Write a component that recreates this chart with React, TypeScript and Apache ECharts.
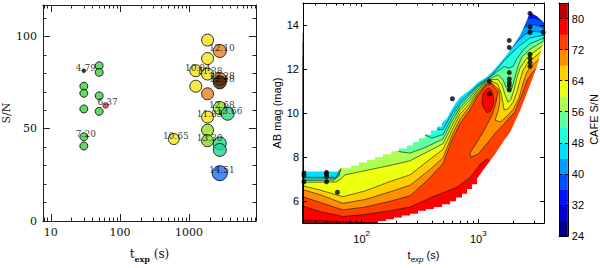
import React, { useEffect, useRef } from 'react';
import * as echarts from 'echarts';

/* ================= Left panel: S/N versus exposure time ================= */
const LEFT_T = [30, 30, 30, 30, 30, 50, 50, 50, 50, 30, 62, 600, 1250, 1250, 1850, 1850, 1850, 1850, 1850, 1850, 1850, 2780, 2780, 2780, 2780, 2780, 2780, 2780, 3610];
const LEFT_SN = [73.0, 69.2, 60.7, 45.6, 40.6, 84.1, 80.5, 67.8, 59.4, 81.4, 62.6, 44.4, 81.4, 73.0, 98.0, 88.0, 79.6, 68.9, 56.3, 49.2, 43.5, 92.1, 76.9, 75.1, 61.2, 42.0, 38.5, 25.9, 58.1];
const LEFT_MAG_LABELS = ['', '', '', '7.20', '', '', '', '', '', '4.79', '6.37', '10.65', '10.84', '', '', '', '11.38', '', '11.83', '', '13.30', '12.10', '12.28', '12.48', '12.68', '', '', '14.51', '13.66'];
const LEFT_X_LABELS = [10, 100, 1000];
const LEFT_X_MINOR = [8, 9, 20, 30, 40, 50, 60, 70, 80, 90, 200, 300, 400, 500, 600, 700, 800, 900, 2000, 3000, 4000, 5000, 6000, 7000, 8000, 9000];
const LEFT_Y_LABELS = [0, 50, 100];
const LEFT_Y_MINOR = [10, 20, 30, 40, 60, 70, 80, 90, 110];

// point styles (kept apart from the data)
const G = '#3fcf3f';
const Y = '#f4e41c';
const LEFT_COLORS = [G, G, G, G, G, G, G, G, G, '#000000', '#d42a1e', Y, Y, Y, Y, Y, Y, '#ef7d1f', Y, '#98e023', '#7fd92c', '#ee7a1c', '#dd6c18', '#3d1b06', '#8fe028', '#23dd86', '#22d596', '#1c6ff0', '#30d47c'];
const LEFT_SIZES = [8, 8, 8, 8, 8, 8, 8, 8, 8, 4, 6, 11, 12, 12, 12, 12, 12, 12, 12, 12, 12, 13, 13, 13, 13, 13, 13, 15, 13];

/* ================= Right panel: AB mag versus exposure time ================= */
const RIGHT_T = [32, 32, 32, 50, 50, 50, 50, 62, 600, 1245, 1245, 1845, 1845, 1845, 1845, 1845, 1845, 1845, 2780, 2780, 2780, 2780, 2780, 2780, 2780, 3610];
const RIGHT_MAG = [7.28, 7.15, 6.88, 7.30, 7.22, 7.12, 6.88, 6.40, 10.65, 11.44, 10.87, 13.30, 12.98, 11.84, 11.55, 11.38, 11.24, 11.05, 14.53, 13.91, 13.67, 12.67, 12.48, 12.30, 12.12, 13.67];
const RIGHT_X_LABELS = [100, 1000];
const RIGHT_X_MINOR = [40, 50, 60, 70, 80, 90, 200, 300, 400, 500, 600, 700, 800, 900, 2000, 3000];
const RIGHT_Y_LABELS = [6, 8, 10, 12, 14];

// CAFE S/N contour levels and colour bar
const CB_EDGES = [24, 28, 32, 36, 40, 44, 48, 52, 56, 60, 64, 68, 72, 76, 80, 84];
const CB_LABELS = [24, 32, 40, 48, 56, 64, 72, 80];
const BAND_COLORS = ['#00008f', '#0000cf', '#0010ff', '#0050ff', '#009fff', '#00dfff', '#20ffdf', '#60ff9f', '#afff50', '#efff10', '#ffcf00', '#ff8f00', '#ff4000', '#ff0000', '#bf0000'];

// iso-S/N lines, points as [log10(t_exp / s), AB mag]; the high-S/N side is below/right
const ISO_36 = [[1.497, 13.63], [3.375, 14.18], [3.427, 14.31], [3.487, 14.31], [3.564, 14.14]];
const ISO_40 = [[1.497, 13.20], [3.315, 13.50], [3.358, 13.76], [3.418, 13.97], [3.487, 14.01], [3.564, 13.88]];
const ISO_44 = [[1.497, 12.55], [3.169, 12.47], [3.229, 12.68], [3.289, 12.98], [3.341, 13.28], [3.401, 13.58], [3.470, 13.71], [3.564, 13.67]];
const ISO_48 = [[1.497, 7.08], [1.780, 7.08], [1.806, 7.32], [1.814, 7.58], [2.543, 9.64], [2.655, 9.25], [2.698, 9.25], [2.775, 9.98], [2.843, 10.49], [2.929, 10.92], [2.998, 11.27], [3.066, 11.52], [3.118, 11.74], [3.169, 12.04], [3.229, 12.43], [3.289, 12.73], [3.358, 13.07], [3.444, 13.41], [3.564, 13.54]];
const ISO_52 = [[1.497, 7.00], [1.780, 7.02], [1.814, 7.27], [1.823, 7.58], [2.500, 9.12], [2.603, 8.86], [2.698, 9.03], [2.775, 9.81], [2.843, 10.37], [2.929, 10.84], [2.998, 11.22], [3.066, 11.48], [3.118, 11.70], [3.169, 11.91], [3.221, 12.12], [3.264, 12.04], [3.298, 12.12], [3.332, 12.47], [3.384, 12.85], [3.444, 13.15], [3.564, 13.41]];
const ISO_56 = [[1.497, 6.93], [1.763, 6.95], [1.806, 7.15], [1.823, 7.49], [2.072, 8.26], [2.260, 8.39], [2.329, 8.24], [2.415, 8.18], [2.543, 8.43], [2.698, 8.82], [2.775, 9.64], [2.843, 10.24], [2.929, 10.71], [2.998, 11.14], [3.066, 11.44], [3.118, 11.61], [3.169, 11.74], [3.212, 11.52], [3.238, 11.18], [3.264, 10.97], [3.289, 11.14], [3.315, 11.61], [3.341, 12.12], [3.375, 12.55], [3.444, 12.90], [3.564, 13.28]];
const ISO_60 = [[1.497, 6.85], [1.780, 6.87], [1.823, 7.02], [1.857, 7.19], [2.046, 7.40], [2.243, 7.62], [2.415, 7.83], [2.543, 8.18], [2.698, 8.61], [2.775, 9.42], [2.843, 10.11], [2.929, 10.58], [2.998, 11.05], [3.066, 11.40], [3.118, 11.52], [3.169, 11.52], [3.204, 11.27], [3.229, 10.84], [3.255, 10.49], [3.281, 10.62], [3.307, 11.05], [3.332, 11.61], [3.358, 12.04], [3.401, 12.38], [3.444, 12.64], [3.564, 13.11]];
const ISO_64 = [[1.497, 6.69], [1.643, 6.50], [1.840, 6.20], [2.029, 6.46], [2.243, 6.89], [2.415, 7.19], [2.569, 7.83], [2.698, 8.35], [2.775, 9.21], [2.843, 9.94], [2.929, 10.45], [2.998, 10.97], [3.066, 11.35], [3.118, 11.44], [3.169, 11.31], [3.195, 10.92], [3.212, 10.49], [3.221, 10.15], [3.255, 10.19], [3.298, 10.49], [3.332, 10.97], [3.358, 11.48], [3.384, 11.95], [3.427, 12.30], [3.564, 12.90]];
const ISO_68 = [[1.497, 6.52], [1.643, 6.29], [1.840, 5.90], [2.029, 6.07], [2.243, 6.42], [2.415, 6.72], [2.569, 7.36], [2.698, 7.96], [2.775, 8.99], [2.843, 9.72], [2.929, 10.32], [2.998, 10.88], [3.066, 11.31], [3.118, 11.35], [3.178, 11.05], [3.187, 10.58], [3.169, 10.06], [3.144, 9.68], [3.187, 9.59], [3.238, 9.81], [3.298, 10.15], [3.349, 10.67], [3.384, 11.35], [3.418, 11.87], [3.461, 12.17], [3.564, 12.64]];
const ISO_72 = [[1.497, 6.20], [1.643, 5.94], [1.840, 5.60], [2.029, 5.73], [2.243, 5.99], [2.415, 6.24], [2.569, 6.97], [2.698, 7.70], [2.775, 8.78], [2.843, 9.51], [2.929, 10.15], [2.998, 10.79], [3.066, 11.27], [3.118, 11.31], [3.169, 10.97], [3.152, 10.49], [3.118, 9.89], [3.049, 9.21], [2.981, 8.61], [2.929, 8.18], [2.938, 8.00], [2.998, 8.13], [3.075, 8.61], [3.152, 9.12], [3.229, 9.55], [3.315, 10.06], [3.375, 10.84], [3.418, 11.48], [3.461, 11.82], [3.512, 12.12], [3.564, 12.38]];
const ISO_76_LOW = [[1.497, 5.77], [1.643, 5.52], [1.840, 5.30], [2.029, 5.39], [2.243, 5.56], [2.415, 5.73], [2.612, 6.20], [2.818, 6.63], [2.929, 7.06], [3.015, 7.66], [3.075, 7.92], [3.118, 7.75]];
const ISO_76_PEAK = [[3.084, 11.14], [3.109, 11.05], [3.126, 10.84], [3.135, 10.58], [3.126, 10.32], [3.101, 10.06], [3.075, 10.02], [3.049, 10.19], [3.032, 10.49], [3.041, 10.84], [3.058, 11.01]];
const ISO_80 = [[1.497, 5.13], [1.729, 5.09], [1.943, 5.04], [2.115, 5.00]];

// edges of the sampled area (outside is blank)
const MASK_UPPER = [[1.497, 15.00], [1.497, 7.34], [1.797, 7.34], [1.823, 7.49], [1.909, 7.49], [1.909, 7.62], [1.977, 7.62], [1.977, 7.75], [2.046, 7.75], [2.046, 7.88], [2.115, 7.88], [2.115, 8.00], [2.183, 8.00], [2.183, 8.13], [2.252, 8.13], [2.252, 8.26], [2.320, 8.26], [2.320, 8.39], [2.389, 8.39], [2.389, 8.52], [2.440, 8.52], [2.440, 8.69], [2.492, 8.69], [2.492, 8.86], [2.543, 8.86], [2.543, 9.03], [2.595, 9.03], [2.595, 9.21], [2.646, 9.21], [2.646, 9.38], [2.689, 9.38], [2.689, 9.55], [2.732, 9.76], [2.758, 10.02], [2.801, 10.41], [2.843, 10.71], [2.929, 11.05], [2.998, 11.40], [3.066, 11.61], [3.118, 11.87], [3.169, 12.17], [3.229, 12.55], [3.289, 12.98], [3.358, 13.54], [3.401, 14.01], [3.444, 14.57], [3.504, 14.40], [3.564, 14.10], [3.564, 15.00]];
const MASK_LOWER = [[2.140, 5.00], [2.140, 5.09], [2.209, 5.09], [2.209, 5.17], [2.277, 5.17], [2.277, 5.26], [2.346, 5.26], [2.346, 5.34], [2.415, 5.34], [2.415, 5.43], [2.483, 5.43], [2.483, 5.56], [2.552, 5.56], [2.552, 5.64], [2.620, 5.64], [2.620, 5.73], [2.689, 5.73], [2.689, 5.86], [2.758, 5.86], [2.758, 5.99], [2.809, 5.99], [2.809, 6.16], [2.861, 6.16], [2.861, 6.33], [2.904, 6.33], [2.904, 6.55], [2.946, 6.55], [2.946, 6.76], [2.989, 6.76], [2.989, 7.02], [3.058, 7.53], [3.144, 8.13], [3.212, 8.69], [3.272, 9.12], [3.358, 10.11], [3.444, 11.27], [3.512, 12.25], [3.564, 13.33], [3.564, 5.00]];

/* ================= layout constants ================= */
const L_XMIN = 7.67, L_XMAX = 9290, L_YMAX = 117;
const R_XLOG0 = 1.497, R_XLOG1 = 3.564;
const R_XMIN = Math.pow(10, R_XLOG0), R_XMAX = Math.pow(10, R_XLOG1);
const MAG_MIN = 5, MAG_MAX = 15;
const FONT_L = 'DejaVu Serif';
const FONT_R = 'Liberation Sans';
const INK = '#222';

function buildOption(): any {
  const regions: any[] = [
    { pts: [[R_XLOG0, MAG_MIN], [R_XLOG1, MAG_MIN], [R_XLOG1, MAG_MAX], [R_XLOG0, MAG_MAX]], fill: BAND_COLORS[2], closed: true, line: false },
    { pts: ISO_36, fill: BAND_COLORS[3] },
    { pts: ISO_40, fill: BAND_COLORS[4] },
    { pts: ISO_44, fill: BAND_COLORS[5] },
    { pts: ISO_48, fill: BAND_COLORS[6] },
    { pts: ISO_52, fill: BAND_COLORS[7] },
    { pts: ISO_56, fill: BAND_COLORS[8] },
    { pts: ISO_60, fill: BAND_COLORS[9] },
    { pts: ISO_64, fill: BAND_COLORS[10] },
    { pts: ISO_68, fill: BAND_COLORS[11] },
    { pts: ISO_72, fill: BAND_COLORS[12] },
    { pts: ISO_76_LOW, fill: BAND_COLORS[13] },
    { pts: ISO_76_PEAK, fill: BAND_COLORS[13], closed: true },
    { pts: ISO_80, fill: BAND_COLORS[14] },
    { pts: MASK_UPPER, fill: '#ffffff', closed: true, line: false },
    { pts: MASK_LOWER, fill: '#ffffff', closed: true, line: false },
  ];

  const leftX = (position: string, major: boolean, label: boolean) => ({
    type: 'log', gridIndex: 0, min: L_XMIN, max: L_XMAX, position, z: 10,
    axisLine: { show: major, onZero: false, lineStyle: { color: INK, width: 1 } },
    axisTick: { show: true, inside: true, length: major ? 7 : 3.5, customValues: major ? LEFT_X_LABELS : LEFT_X_MINOR, lineStyle: { color: INK, width: 1 } },
    axisLabel: { show: label, customValues: LEFT_X_LABELS, margin: 6, fontFamily: FONT_L, fontSize: 11, color: '#111', formatter: (v: number) => String(Math.round(v)) },
    splitLine: { show: false },
  });
  const leftY = (position: string, major: boolean, label: boolean) => ({
    type: 'value', gridIndex: 0, min: 0, max: L_YMAX, position, z: 10,
    axisLine: { show: major, onZero: false, lineStyle: { color: INK, width: 1 } },
    axisTick: { show: true, inside: true, length: major ? 7 : 3.5, customValues: major ? LEFT_Y_LABELS : LEFT_Y_MINOR, lineStyle: { color: INK, width: 1 } },
    axisLabel: { show: label, customValues: LEFT_Y_LABELS, margin: 6, fontFamily: FONT_L, fontSize: 11, color: '#111' },
    splitLine: { show: false },
  });
  const rightX = (position: string, major: boolean, label: boolean) => ({
    type: 'log', gridIndex: 1, min: R_XMIN, max: R_XMAX, position, z: 10,
    axisLine: { show: major, onZero: false, lineStyle: { color: '#000', width: 1 } },
    axisTick: { show: true, inside: true, length: major ? 4 : 2.5, customValues: major ? RIGHT_X_LABELS : RIGHT_X_MINOR, lineStyle: { color: '#000', width: 1 } },
    axisLabel: {
      show: label, customValues: RIGHT_X_LABELS, margin: 6,
      formatter: (v: number) => `{b|10}{s|${Math.round(Math.log10(v))}}`,
      rich: {
        b: { fontFamily: FONT_R, fontSize: 11, color: '#000', lineHeight: 15, verticalAlign: 'bottom' },
        s: { fontFamily: FONT_R, fontSize: 8, color: '#000', lineHeight: 9, verticalAlign: 'top' },
      },
    },
    splitLine: { show: false },
  });
  const rightY = (position: string, label: boolean) => ({
    type: 'value', gridIndex: 1, min: MAG_MIN, max: MAG_MAX, position, z: 10,
    axisLine: { show: true, onZero: false, lineStyle: { color: '#000', width: 1 } },
    axisTick: { show: true, inside: true, length: 4, customValues: RIGHT_Y_LABELS, lineStyle: { color: '#000', width: 1 } },
    axisLabel: { show: label, customValues: RIGHT_Y_LABELS, margin: 4, fontFamily: FONT_R, fontSize: 11, color: '#000' },
    splitLine: { show: false },
  });

  const xAxis: any[] = [
    {
      ...leftX('bottom', true, true),
      name: '{a|t}{b|exp}{a| (s)}', nameLocation: 'middle', nameGap: 27,
      nameTextStyle: {
        rich: {
          a: { fontFamily: FONT_L, fontSize: 12, color: '#111', lineHeight: 13, verticalAlign: 'top' },
          b: { fontFamily: FONT_L, fontSize: 8, fontWeight: 'bold', color: '#111', lineHeight: 15, verticalAlign: 'bottom' },
        },
      },
    },
    leftX('bottom', false, false),
    leftX('top', true, false),
    leftX('top', false, false),
    {
      ...rightX('bottom', true, true),
      name: '{a|t}{b|exp}{a| (s)}', nameLocation: 'middle', nameGap: 21,
      nameTextStyle: {
        rich: {
          a: { fontFamily: FONT_R, fontSize: 11, color: '#000', lineHeight: 12, verticalAlign: 'top' },
          b: { fontFamily: FONT_R, fontSize: 8, fontStyle: 'italic', color: '#000', lineHeight: 14, verticalAlign: 'bottom' },
        },
      },
    },
    rightX('bottom', false, false),
    rightX('top', true, false),
    rightX('top', false, false),
    { type: 'value', gridIndex: 2, min: 0, max: 1, position: 'bottom', z: 10, axisLine: { show: true, onZero: false, lineStyle: { color: '#000' } }, axisTick: { show: false }, axisLabel: { show: false }, splitLine: { show: false } },
    { type: 'value', gridIndex: 2, min: 0, max: 1, position: 'top', z: 10, axisLine: { show: true, onZero: false, lineStyle: { color: '#000' } }, axisTick: { show: false }, axisLabel: { show: false }, splitLine: { show: false } },
  ];

  const yAxis: any[] = [
    { ...leftY('left', true, true), name: 'S/N', nameLocation: 'middle', nameGap: 20, nameRotate: 90, nameTextStyle: { fontFamily: FONT_L, fontSize: 11, color: '#111' } },
    leftY('left', false, false),
    leftY('right', true, false),
    leftY('right', false, false),
    { ...rightY('left', true), name: 'AB mag (mag)', nameLocation: 'middle', nameGap: 17, nameRotate: 90, nameTextStyle: { fontFamily: FONT_R, fontSize: 11, color: '#000' } },
    rightY('right', false),
    {
      type: 'value', gridIndex: 2, min: 24, max: 84, position: 'right', z: 10,
      axisLine: { show: true, onZero: false, lineStyle: { color: '#000' } },
      axisTick: { show: true, inside: true, length: 3, customValues: CB_LABELS, lineStyle: { color: '#000' } },
      axisLabel: { show: true, customValues: CB_LABELS, margin: 4, fontFamily: FONT_R, fontSize: 11, color: '#000' },
      splitLine: { show: false },
      name: 'CAFE S/N', nameLocation: 'middle', nameGap: 17, nameRotate: 90,
      nameTextStyle: { fontFamily: FONT_R, fontSize: 11, color: '#000' },
    },
    {
      type: 'value', gridIndex: 2, min: 24, max: 84, position: 'left', z: 10,
      axisLine: { show: true, onZero: false, lineStyle: { color: '#000' } },
      axisTick: { show: true, inside: true, length: 3, customValues: CB_LABELS, lineStyle: { color: '#000' } },
      axisLabel: { show: false }, splitLine: { show: false },
    },
  ];

  const leftData = LEFT_T.map((t, i) => ({
    value: [t, LEFT_SN[i]],
    symbolSize: LEFT_SIZES[i],
    itemStyle: { color: LEFT_COLORS[i], borderColor: '#000', borderWidth: LEFT_SIZES[i] > 6 ? 1 : 0.5 },
    label: { show: LEFT_MAG_LABELS[i] !== '', formatter: LEFT_MAG_LABELS[i] },
  }));

  return {
    animation: false,
    backgroundColor: '#ffffff',
    grid: [
      { left: 34, top: 5, width: 222, height: 219 },
      { left: 303, top: 3, width: 241, height: 233 },
      { left: 559, top: 3, width: 12, height: 233 },
    ],
    xAxis,
    yAxis,
    series: [
      {
        type: 'scatter', xAxisIndex: 0, yAxisIndex: 0, z: 3,
        data: leftData,
        label: { position: 'inside', offset: [2, -3], fontFamily: FONT_L, fontSize: 9, color: '#000' },
        emphasis: { disabled: true },
      },
      {
        type: 'custom', xAxisIndex: 4, yAxisIndex: 4, z: 2, silent: true,
        data: regions.map((_, i) => [100, 10, i]),
        encode: { x: 0, y: 1 },
        renderItem: (params: any, api: any) => {
          const r = regions[params.dataIndex];
          const raw = r.closed ? r.pts : [...r.pts, [R_XLOG1, MAG_MIN], [R_XLOG0, MAG_MIN]];
          const points = raw.map((p: number[]) => api.coord([Math.pow(10, p[0]), p[1]]));
          return {
            type: 'polygon',
            shape: { points },
            style: { fill: r.fill, stroke: r.line === false ? null : '#111', lineWidth: 0.6 },
          };
        },
      },
      {
        type: 'scatter', xAxisIndex: 4, yAxisIndex: 4, z: 4,
        data: RIGHT_T.map((t, i) => [t, RIGHT_MAG[i]]),
        symbolSize: 5,
        itemStyle: { color: '#000' },
        emphasis: { disabled: true },
      },
      {
        type: 'custom', xAxisIndex: 8, yAxisIndex: 6, z: 2, silent: true,
        data: CB_EDGES.slice(0, -1).map((lo, i) => [0, lo, CB_EDGES[i + 1]]),
        encode: { x: 0, y: 1 },
        renderItem: (params: any, api: any) => {
          const i = params.dataIndex;
          const p0 = api.coord([0, api.value(1)]);
          const p1 = api.coord([1, api.value(2)]);
          return {
            type: 'rect',
            shape: { x: p0[0], y: p1[1], width: p1[0] - p0[0], height: p0[1] - p1[1] + 0.5 },
            style: { fill: BAND_COLORS[i] },
          };
        },
      },
    ],
  };
}

export default function App() {
  const ref = useRef<HTMLDivElement>(null);
  useEffect(() => {
    document.body.style.margin = '0';
    const chart = echarts.init(ref.current as HTMLDivElement, null, { renderer: 'svg' });
    chart.setOption(buildOption());
    return () => chart.dispose();
  }, []);
  return <div ref={ref} style={{ width: 600, height: 268, background: '#fff' }} />;
}
